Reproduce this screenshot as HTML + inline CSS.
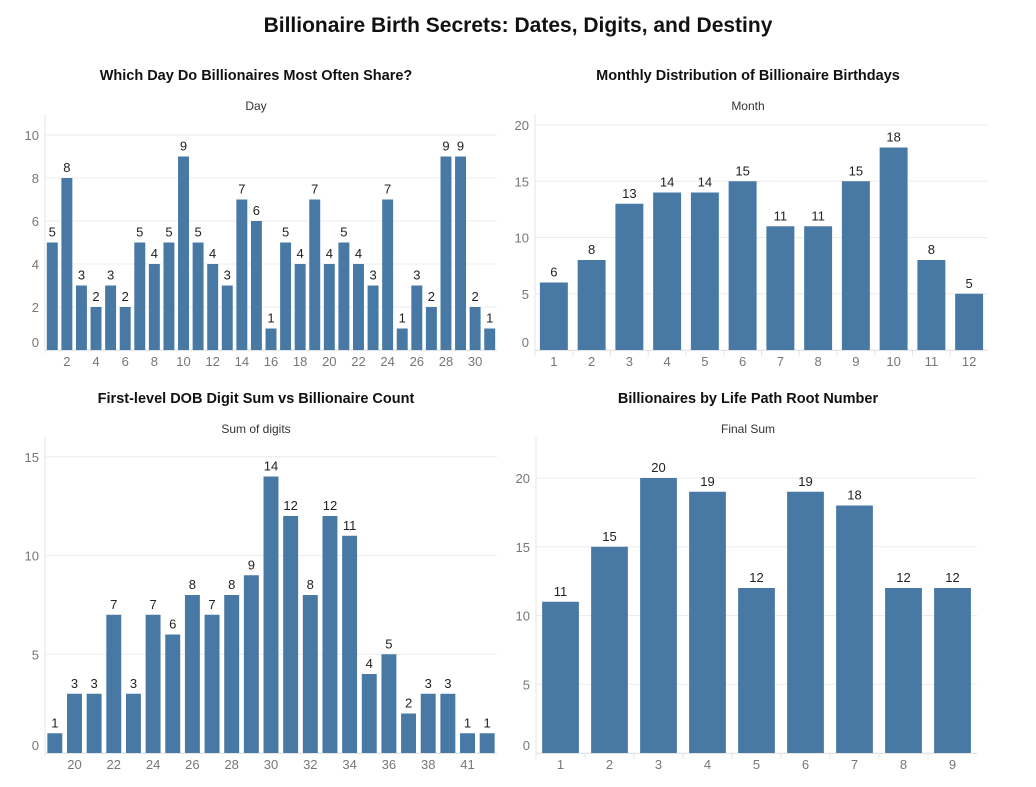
<!DOCTYPE html>
<html><head><meta charset="utf-8"><style>
body{margin:0;background:#fff;width:1036px;height:782px;overflow:hidden;font-family:"Liberation Sans",sans-serif}
svg text{font-family:"Liberation Sans",sans-serif}
</style></head><body>
<svg id="s" width="1036" height="782">
<text x="518" y="32" text-anchor="middle" font-size="21" font-weight="bold" fill="#111">Billionaire Birth Secrets: Dates, Digits, and Destiny</text>
</svg>
<script>
const dayCats=[1,2,3,4,5,6,7,8,9,10,11,12,13,14,15,16,17,18,19,20,21,22,23,24,25,26,27,28,29,30,31];
const dayVals=[5,8,3,2,3,2,5,4,5,9,5,4,3,7,6,1,5,4,7,4,5,4,3,7,1,3,2,9,9,2,1];
const dayTicks=[0,2,4,6,8,10];
const monthCats=[1,2,3,4,5,6,7,8,9,10,11,12];
const monthVals=[6,8,13,14,14,15,11,11,15,18,8,5];
const monthTicks=[0,5,10,15,20];
const sumCats=[19,20,21,22,23,24,25,26,27,28,29,30,31,32,33,34,35,36,37,38,39,41,42];
const sumVals=[1,3,3,7,3,7,6,8,7,8,9,14,12,8,12,11,4,5,2,3,3,1,1];
const sumTicks=[0,5,10,15];
const rootCats=[1,2,3,4,5,6,7,8,9];
const rootVals=[11,15,20,19,12,19,18,12,12];
const rootTicks=[0,5,10,15,20];

const svg=document.getElementById('s');
const NS='http://www.w3.org/2000/svg';
function mk(tag,attrs,parent,txt){const e=document.createElementNS(NS,tag);for(const k in attrs)e.setAttribute(k,attrs[k]);if(txt!==undefined)e.textContent=txt;(parent||svg).appendChild(e);return e;}

function chart(o){
  const g=mk('g',{});
  
  
  const t=mk('text',{x:o.cx,y:o.titleY,'text-anchor':'middle','font-size':14.5,'font-weight':'bold',fill:'#111'},g,o.title);
  
  
  const at=mk('text',{x:o.cx,y:o.titleY+30,'text-anchor':'middle','font-size':12,fill:'#333'},g,o.axisTitle);
  
  
  const y=v=>o.base-v*o.ppu;
  const step=(o.right-o.left)/o.cats.length;
  const x=i=>o.left+i*step;
  o.ticks.forEach(v=>{
    const gl=mk('line',{x1:o.left,x2:o.right,y1:y(v),y2:y(v),stroke:'#ececec','stroke-width':1},g);
    
    
    const tl=mk('text',{x:o.left-6,y:y(v)+(v===0?-3:5),'text-anchor':'end','font-size':13,fill:'#777'},g,v);
    
    
  });
  const ax=mk('line',{x1:o.left,x2:o.left,y1:o.axisTop,y2:o.base+3,stroke:'#e4e4e4'},g);
  
  
  const bx=mk('line',{x1:o.left,x2:o.right,y1:o.base+0.5,y2:o.base+0.5,stroke:'#e4e4e4'},g);
  
  
  o.cats.forEach((c,i)=>{
    const bw=step*o.wf;
    const bxp=x(i)+(step-bw)/2;
    const r=mk('rect',{x:bxp,y:y(o.vals[i]),width:bw,height:o.vals[i]*o.ppu,fill:'#4878a4'},g);
    
    
    const l=mk('text',{x:x(i)+step/2,y:y(o.vals[i])-6,'text-anchor':'middle','font-size':13,fill:'#222'},g,o.vals[i]);
    
    
    if(o.sep){
      const s=mk('line',{x1:x(i),x2:x(i),y1:o.base,y2:o.base+6,stroke:'#e4e4e4'},g);
      
      
    }
    if(o.every===1||i%2===1){
      const tl=mk('text',{x:x(i)+step/2,y:o.base+16,'text-anchor':'middle','font-size':13,fill:'#777'},g,c);
      
      
    }
  });
}
chart({name:'day-chart',title:'Which Day Do Billionaires Most Often Share?',axisTitle:'Day',cx:256,titleY:80,cats:dayCats,vals:dayVals,ticks:dayTicks,left:45,right:497,base:350,ppu:21.5,axisTop:114,wf:0.75,every:2,sep:false});
chart({name:'month-chart',title:'Monthly Distribution of Billionaire Birthdays',axisTitle:'Month',cx:748,titleY:80,cats:monthCats,vals:monthVals,ticks:monthTicks,left:535,right:988,base:350,ppu:11.25,axisTop:114,wf:0.74,every:1,sep:true});
chart({name:'digit-sum-chart',title:'First-level DOB Digit Sum vs Billionaire Count',axisTitle:'Sum of digits',cx:256,titleY:403,cats:sumCats,vals:sumVals,ticks:sumTicks,left:45,right:497,base:753,ppu:19.75,axisTop:437,wf:0.76,every:2,sep:false});
chart({name:'life-path-chart',title:'Billionaires by Life Path Root Number',axisTitle:'Final Sum',cx:748,titleY:403,cats:rootCats,vals:rootVals,ticks:rootTicks,left:536,right:977,base:753,ppu:13.75,axisTop:437,wf:0.75,every:1,sep:true});
</script>
</body></html>
